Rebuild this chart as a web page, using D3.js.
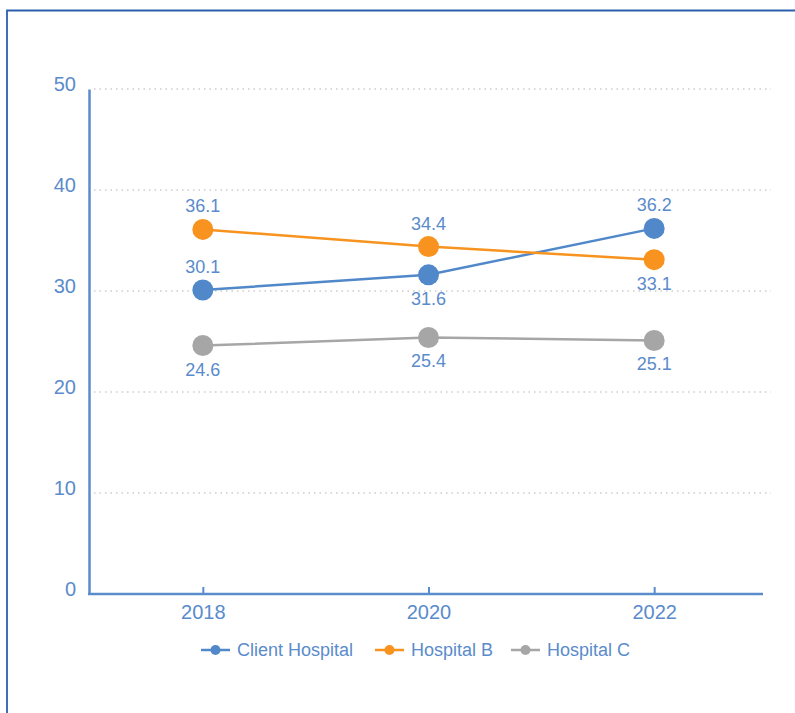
<!DOCTYPE html>
<html lang="en">
<head>
    <meta charset="UTF-8">
    <title>Hospital comparison</title>
    <style>
        body { margin: 0; background: #fff; }
        svg { font-family: "Liberation Sans", Arial, sans-serif; }
        .grid line { stroke: #b3b3b3; stroke-width: 1.2px; stroke-dasharray: 1.5 4; }
        .axis text { fill: #5a8bcb; font-size: 20px; }
    </style>
</head>
<body>
    <div id="chart"></div>

    <script src="https://d3js.org/d3.v7.min.js"></script>
    <script>
        const width = 795;
        const height = 713;

        // data
        const years = ["2018", "2020", "2022"];
        const clientHospital = [30.1, 31.6, 36.2];
        const hospitalB = [36.1, 34.4, 33.1];
        const hospitalC = [24.6, 25.4, 25.1];
        const yTicks = [0, 10, 20, 30, 40, 50];

        // label above (-1) or below (1) each point
        const series = [
            { name: "Client Hospital", values: clientHospital, color: "#5088c9", side: [-1, 1, -1] },
            { name: "Hospital B", values: hospitalB, color: "#f7931e", side: [-1, -1, 1] },
            { name: "Hospital C", values: hospitalC, color: "#a6a6a6", side: [1, 1, 1] }
        ];

        const margin = { left: 89, right: 32, top: 89, bottom: 119 };
        const labelColor = "#5a8bcb";

        const svg = d3.select("#chart").append("svg")
            .attr("width", width)
            .attr("height", height);

        // frame around the chart
        svg.append("path")
            .attr("d", `M7,${height} V10.5 H${width}`)
            .attr("fill", "none")
            .attr("stroke", "#2d5fae")
            .attr("stroke-width", 1.8);

        const x = d3.scalePoint()
            .domain(years)
            .range([margin.left + 1, width - 28])
            .padding(0.5);

        const y = d3.scaleLinear()
            .domain([0, 50])
            .range([height - margin.bottom, margin.top]);

        // gridlines
        svg.append("g")
            .attr("class", "grid")
            .selectAll("line")
            .data(yTicks.filter(d => d > 0))
            .enter().append("line")
            .attr("x1", margin.left + 5)
            .attr("x2", width - 24)
            .attr("y1", d => y(d))
            .attr("y2", d => y(d));

        // y axis
        const yAxis = svg.append("g")
            .attr("class", "axis")
            .attr("transform", `translate(${margin.left},0)`)
            .call(d3.axisLeft(y).tickValues(yTicks).tickSize(0).tickPadding(13));
        yAxis.select(".domain").attr("stroke", "#5a8bcb").attr("stroke-width", 2.5);
        yAxis.selectAll("text").attr("dy", "0.05em");

        // x axis
        const xAxis = svg.append("g")
            .attr("class", "axis")
            .attr("transform", `translate(0,${y(0)})`)
            .call(d3.axisBottom(x).tickSizeInner(-7).tickSizeOuter(0).tickPadding(11));
        xAxis.select(".domain")
            .attr("d", `M${margin.left - 1},0H${width - margin.right}`)
            .attr("stroke", "#5a8bcb").attr("stroke-width", 2.5);
        xAxis.selectAll(".tick line").attr("stroke", "#5a8bcb").attr("stroke-width", 2);

        const line = d3.line()
            .x((d, i) => x(years[i]))
            .y(d => y(d));

        series.forEach(s => {
            const g = svg.append("g");
            g.append("path")
                .datum(s.values)
                .attr("d", line)
                .attr("fill", "none")
                .attr("stroke", s.color)
                .attr("stroke-width", 2.5);

            g.selectAll("circle")
                .data(s.values)
                .enter().append("circle")
                .attr("cx", (d, i) => x(years[i]))
                .attr("cy", d => y(d))
                .attr("r", 10.5)
                .attr("fill", s.color);

            g.selectAll("text")
                .data(s.values)
                .enter().append("text")
                .attr("x", (d, i) => x(years[i]))
                .attr("y", (d, i) => y(d) + (s.side[i] < 0 ? -17 : 30))
                .attr("text-anchor", "middle")
                .attr("fill", labelColor)
                .attr("font-size", 18)
                .text(d => d.toFixed(1));
        });

        // legend
        const legendX = [201, 375, 511];
        const legend = svg.append("g").attr("transform", "translate(0,650)");
        series.forEach((s, i) => {
            const item = legend.append("g").attr("transform", `translate(${legendX[i]},0)`);
            item.append("line")
                .attr("x1", 0).attr("x2", 29)
                .attr("stroke", s.color).attr("stroke-width", 2.5);
            item.append("circle").attr("cx", 14.5).attr("r", 5).attr("fill", s.color);
            item.append("text")
                .attr("x", 36)
                .attr("dy", "0.35em")
                .attr("fill", labelColor)
                .attr("font-size", 18)
                .text(s.name);
        });
    </script>
</body>
</html>
